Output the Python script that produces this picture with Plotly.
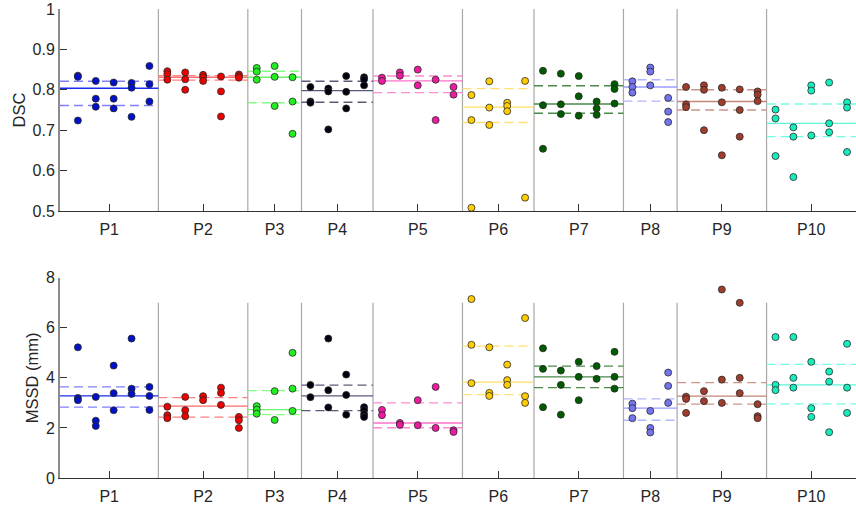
import plotly.graph_objects as go

groups = ["P1", "P2", "P3", "P4", "P5", "P6", "P7", "P8", "P9", "P10"]

# DSC values, per group, per session column
dsc_p1 = [[0.835, 0.832, 0.724], [0.822, 0.778, 0.758], [0.818, 0.778, 0.754], [0.817, 0.805, 0.733], [0.859, 0.814, 0.771]]
dsc_p2 = [[0.846, 0.839, 0.825], [0.843, 0.826, 0.800], [0.837, 0.831, 0.822], [0.833, 0.796, 0.734], [0.838, 0.834, 0.830]]
dsc_p3 = [[0.854, 0.845, 0.825], [0.859, 0.832, 0.760], [0.831, 0.771, 0.691]]
dsc_p4 = [[0.807, 0.771, 0.768], [0.803, 0.796, 0.702], [0.834, 0.795, 0.754], [0.831, 0.826, 0.811]]
dsc_p5 = [[0.830, 0.822], [0.843, 0.835], [0.850, 0.811], [0.825, 0.725], [0.807, 0.788]]
dsc_p6 = [[0.787, 0.725, 0.508], [0.821, 0.756, 0.713], [0.768, 0.760, 0.747], [0.822, 0.533]]
dsc_p7 = [[0.847, 0.762, 0.654], [0.840, 0.764, 0.740], [0.834, 0.784, 0.736], [0.771, 0.754, 0.738], [0.814, 0.802, 0.766]]
dsc_p8 = [[0.821, 0.807, 0.793], [0.855, 0.845, 0.811], [0.780, 0.746, 0.720]]
dsc_p9 = [[0.807, 0.764, 0.757], [0.811, 0.800, 0.700], [0.805, 0.769, 0.638], [0.801, 0.750, 0.684], [0.796, 0.788, 0.772]]
dsc_p10 = [[0.751, 0.729, 0.636], [0.707, 0.684, 0.584], [0.811, 0.798, 0.687], [0.818, 0.717, 0.695], [0.769, 0.756, 0.646]]

# MSSD values (mm)
mssd_p1 = [[5.22, 3.20, 3.11], [3.24, 2.29, 2.08], [4.49, 3.39, 2.71], [5.57, 3.57, 3.36], [3.64, 3.28, 2.72]]
mssd_p2 = [[2.85, 2.51, 2.39], [3.24, 2.71, 2.47], [3.27, 3.11], [3.61, 3.40, 2.92], [2.44, 2.31, 2.00]]
mssd_p3 = [[2.87, 2.73, 2.57], [3.47, 2.32], [5.00, 3.57, 2.68]]
mssd_p4 = [[3.72, 3.23], [5.57, 3.51, 2.82], [4.13, 3.32, 2.53], [2.83, 2.71, 2.55, 2.44]]
mssd_p5 = [[2.72, 2.51], [2.20, 2.12], [3.11, 2.11], [3.64, 2.00], [1.91, 1.84]]
mssd_p6 = [[7.15, 5.32, 3.79], [5.22, 3.40, 3.28], [4.53, 3.91, 3.72], [6.39, 3.27, 3.00]]
mssd_p7 = [[5.18, 4.36, 2.83], [4.29, 3.72, 2.53], [4.64, 4.04, 3.11], [4.47, 3.96], [5.04, 4.04, 3.57]]
mssd_p8 = [[2.97, 2.79, 2.39], [2.68, 2.00, 1.82], [4.21, 3.68, 3.00]]
mssd_p9 = [[3.25, 3.16, 2.60], [3.47, 3.07], [7.53, 3.93, 3.00], [7.00, 4.00, 3.39], [2.95, 2.47, 2.39]]
mssd_p10 = [[5.63, 3.72, 3.51], [5.63, 4.00, 3.61], [4.64, 2.79, 2.44], [4.25, 3.85, 1.83], [5.36, 3.61, 2.60]]

# median and quartiles
dsc_median = [0.804, 0.831, 0.831, 0.798, 0.822, 0.757, 0.765, 0.807, 0.771, 0.717]
dsc_q75 = [0.821, 0.835, 0.846, 0.821, 0.834, 0.803, 0.810, 0.825, 0.800, 0.765]
dsc_q25 = [0.761, 0.824, 0.768, 0.769, 0.793, 0.719, 0.742, 0.772, 0.750, 0.684]
mssd_median = [3.28, 2.87, 2.73, 3.28, 2.20, 3.83, 4.04, 2.79, 3.27, 3.72]
mssd_q75 = [3.64, 3.21, 3.49, 3.71, 3.00, 5.27, 4.47, 3.16, 3.81, 4.54]
mssd_q25 = [2.83, 2.43, 2.53, 2.69, 2.01, 3.33, 3.61, 2.31, 2.95, 2.96]

dsc_all = [dsc_p1, dsc_p2, dsc_p3, dsc_p4, dsc_p5, dsc_p6, dsc_p7, dsc_p8, dsc_p9, dsc_p10]
mssd_all = [mssd_p1, mssd_p2, mssd_p3, mssd_p4, mssd_p5, mssd_p6, mssd_p7, mssd_p8, mssd_p9, mssd_p10]

point_colors = ["#0010cc", "#ee0000", "#22ee22", "#00000e", "#ee1aa0",
                "#ffcc00", "#005a00", "#7474ec", "#a03c2c", "#14eebe"]
median_colors = ["#1a2ef0", "#ff6a6a", "#6cf26c", "#5a5a78", "#ff72c8",
                 "#ffdd60", "#4a8a4a", "#9c9cff", "#c48478", "#5cf5d8"]
quart_colors = ["#8080ff", "#ff8080", "#80ff80", "#5a5a78", "#ff8ad2",
                "#ffe070", "#4a8a4a", "#b4b4ff", "#cc9488", "#70ffe0"]

# group layout on the x axis (column positions derived from counts)
ncols = [len(g) for g in dsc_all]
starts, ends, centers = [], [], []
pos = 0
for i, n in enumerate(ncols):
    s = 0.0 if i == 0 else pos + 0.5
    e = pos + n + 0.5
    starts.append(s)
    ends.append(e)
    centers.append((s + e) / 2)
    pos += n
xmax = ends[-1]

fig = go.Figure()

TXT = "#262626"
FONT = "Liberation Sans, Arial, Helvetica, sans-serif"


def add_panel(values, med, q25, q75, xa, ya, ylo, yhi):
    # separators
    sx, sy = [], []
    for e in ends[:-1]:
        sx += [e, e, None]
        sy += [ylo, yhi, None]
    fig.add_trace(go.Scatter(x=sx, y=sy, mode="lines", xaxis=xa, yaxis=ya,
                             line=dict(color="#a8a8a8", width=1.2),
                             hoverinfo="skip", showlegend=False))
    col0 = 0
    for i, grp in enumerate(values):
        s, e = starts[i], ends[i]
        for val, dash, c in ((q75[i], "9px,5px", quart_colors[i]),
                             (q25[i], "9px,5px", quart_colors[i]),
                             (med[i], "solid", median_colors[i])):
            fig.add_trace(go.Scatter(x=[s, e], y=[val, val], mode="lines",
                                     xaxis=xa, yaxis=ya,
                                     line=dict(color=c, width=1.4, dash=dash),
                                     hoverinfo="skip", showlegend=False))
        px, py = [], []
        for j, col in enumerate(grp):
            for v in col:
                px.append(col0 + j + 1)
                py.append(v)
        fig.add_trace(go.Scatter(x=px, y=py, mode="markers", xaxis=xa, yaxis=ya,
                                 marker=dict(size=7, color=point_colors[i],
                                             line=dict(color="#2a2a2a", width=0.8)),
                                 cliponaxis=False, showlegend=False,
                                 name=groups[i]))
        col0 += len(grp)


add_panel(dsc_all, dsc_median, dsc_q25, dsc_q75, "x", "y", 0.5, 1.0)
add_panel(mssd_all, mssd_median, mssd_q25, mssd_q75, "x2", "y2", 0.0, 7.0)

xcommon = dict(range=[0, xmax], tickvals=centers, ticktext=groups,
               ticks="inside", ticklen=7, tickcolor="#333333", tickwidth=1,
               showline=True, linecolor="#333333", linewidth=1.2,
               showgrid=False, zeroline=False, ticklabelstandoff=4,
               tickfont=dict(family=FONT, size=16, color=TXT))
ycommon = dict(ticks="inside", ticklen=7, tickcolor="#333333", tickwidth=1,
               showline=True, linecolor="#8c8c8c", linewidth=2,
               showgrid=False, zeroline=False,
               tickfont=dict(family=FONT, size=16, color=TXT))

fig.update_layout(
    width=856, height=506,
    margin=dict(l=60, r=0, t=9, b=28),
    paper_bgcolor="white", plot_bgcolor="white",
    showlegend=False,
    xaxis=dict(domain=[0, 1], anchor="y", **xcommon),
    xaxis2=dict(domain=[0, 1], anchor="y2", **xcommon),
    yaxis=dict(domain=[0.5693, 1.0], anchor="x", range=[0.5, 1.0],
               tickvals=[0.5, 0.6, 0.7, 0.8, 0.9, 1.0],
               ticktext=["0.5", "0.6", "0.7", "0.8", "0.9", "1"],
               title=dict(text="DSC", font=dict(family=FONT, size=16.5, color=TXT), standoff=3),
               **ycommon),
    yaxis2=dict(domain=[0.0, 0.427], anchor="x2", range=[0, 8],
                tickvals=[0, 2, 4, 6, 8],
                ticktext=["0", "2", "4", "6", "8"],
                title=dict(text="MSSD (mm)", font=dict(family=FONT, size=16.5, color=TXT), standoff=3),
                **ycommon),
)

fig.write_html("out.html")
